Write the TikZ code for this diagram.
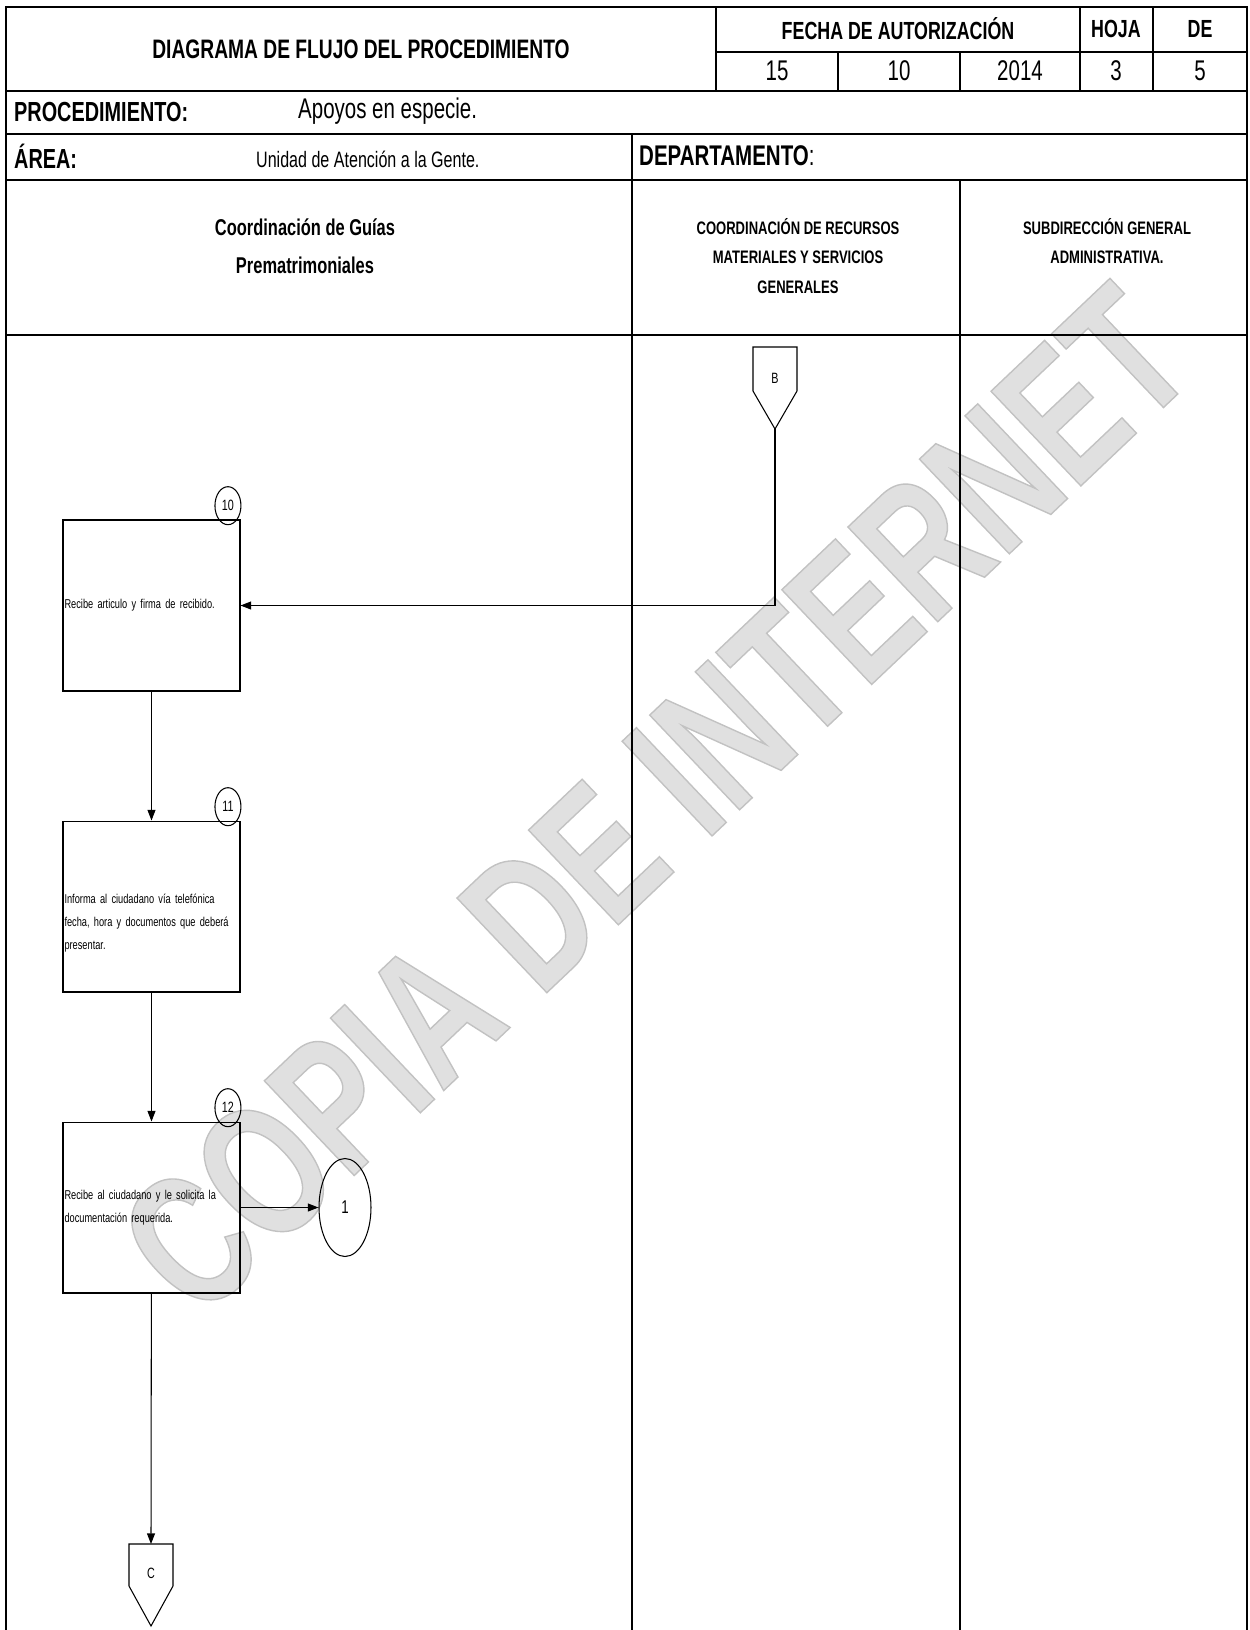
\documentclass[tikz,border=0pt]{standalone}
\usepackage{fontspec}
\setmainfont{Liberation Sans}[FakeStretch=0.72]
\usepackage{xcolor}
\usepackage{tikz}
\usetikzlibrary{arrows.meta, positioning, shapes.geometric}

\begin{document}
\begin{tikzpicture}[
			x=0.02cm, y=-0.02cm,
			every node/.style={font=\fontsize{7.6}{11.5}\selectfont},
			grid/.style={line width=1pt},
			head/.style={font=\bfseries\fontsize{14.1}{16}\selectfont},
			cell/.style={font=\fontsize{16.2}{18}\selectfont},
			lane/.style={align=center, font=\bfseries\fontsize{10.3}{16.8}\selectfont},
			box/.style={
				rectangle, draw, line width=0.6pt,
				minimum width=3.54cm, minimum height=3.42cm,
				text width=99pt, align=left, inner xsep=0.7pt,
				font=\fontsize{7.3}{13}\selectfont,
				execute at begin node={\hyphenpenalty=10000\relax}
			},
			num/.style={
				ellipse, draw, line width=0.6pt, inner sep=0pt,
				minimum width=0.52cm, minimum height=0.76cm,
				font=\fontsize{8.5}{9}\selectfont
			},
			arrow/.style={
				-{Triangle[length=6pt,width=4.5pt]},
				line width=0.6pt
			}
			]
			
			\useasboundingbox (0,0) rectangle (1250,1630);
			
			% marca de agua
			\node[rotate=43.5, text=black!12, font=\bfseries\fontsize{108}{108}\selectfont] (marca) at (655,800)
				{\special{pdf:literal direct 2 Tr 0.8 w 0.76 G}COPIA DE INTERNET\special{pdf:literal direct 0 Tr}};
			
			% encabezado
			\draw[grid] (6,1630) -- (6,7) -- (1247,7) -- (1247,1630);
			\draw[grid] (716,7) -- (716,91);
			\draw[grid] (716,52) -- (1247,52);
			\foreach \x in {1080,1153} \draw[grid] (\x,7) -- (\x,91);
			\foreach \x in {838,960} \draw[grid] (\x,52) -- (\x,91);
			\draw[grid] (6,91) -- (1247,91);
			\draw[grid] (6,134) -- (1247,134);
			\draw[grid] (6,180) -- (1247,180);
			\draw[grid] (6,335) -- (1247,335);
			\draw[grid] (632,134) -- (632,1630);
			\draw[grid] (960,180) -- (960,1630);
			
			\node[head, font=\bfseries\fontsize{15.2}{17}\selectfont] (titulo) at (361,49) {DIAGRAMA DE FLUJO DEL PROCEDIMIENTO};
			\node[head] (fecha) at (898,29) {FECHA DE AUTORIZACIÓN};
			\node[head] (hoja) at (1116,29) {HOJA};
			\node[head] (de) at (1200,29) {DE};
			\node[cell] (dia) at (777,71) {15};
			\node[cell] (mes) at (899,71) {10};
			\node[cell] (anio) at (1020,71) {2014};
			\node[cell] (nhoja) at (1116,71) {3};
			\node[cell] (nde) at (1200,71) {5};
			
			\node[head, font=\bfseries\fontsize{15.7}{17}\selectfont, anchor=west] (proc) at (8,112) {PROCEDIMIENTO:};
			\node[cell, anchor=west] (apoyos) at (292,111) {Apoyos en especie.};
			\node[head, font=\bfseries\fontsize{15.7}{17}\selectfont, anchor=west] (area) at (8,156) {ÁREA:};
			\node[anchor=west, font=\fontsize{12.7}{14}\selectfont] (unidad) at (250,159) {Unidad de Atención a la Gente.};
			\node[head, font=\bfseries\fontsize{16.2}{17}\selectfont, anchor=west] (depto) at (633,156) {DEPARTAMENTO{\mdseries :}};
			
			% carriles
			\node[lane, font=\bfseries\fontsize{13}{21.6}\selectfont] (guias) at (305,246) {Coordinación de Guías\\Prematrimoniales};
			\node[lane] (recursos) at (798,256) {COORDINACIÓN DE RECURSOS\\MATERIALES Y SERVICIOS\\GENERALES};
			\node[lane] (subdir) at (1107,241) {SUBDIRECCIÓN GENERAL\\ADMINISTRATIVA.};
			
			% conector B
			\node[font=\fontsize{8.5}{9}\selectfont] (offB) at (775,378) {B};
			\draw[line width=0.6pt] (753,347) -- (797,347) -- (797,391) -- (775,429) coordinate (offB tip) -- (753,391) -- cycle;
			
			% actividades
			\node[box] (recibe) at (151.5,605.5) {Recibe articulo y firma de recibido.};
			\node[box] (informa) at (151.5,906.5) {\rule{0pt}{24pt}Informa al ciudadano vía telefónica\\fecha, hora y documentos que deberá\\presentar.};
			\node[box] (atiende) at (151.5,1207.5) {Recibe al ciudadano y le solicita la\\documentación requerida.};
			
			\node[num, above left=0pt and 0.06cm of recibe.north east] (n10) {10};
			\node[num, above left=0pt and 0.06cm of informa.north east] (n11) {11};
			\node[num, above left=0pt and 0.06cm of atiende.north east] (n12) {12};
			
			\node[ellipse, draw, line width=0.6pt, minimum width=1.04cm, minimum height=1.96cm, inner sep=0pt, font=\fontsize{10.5}{11}\selectfont] (con1) at (345,1207.5) {1};
			
			% conector C
			\node[font=\fontsize{8.5}{9}\selectfont] (offC) at (151,1573) {C};
			\draw[line width=0.6pt] (129,1544) -- (173,1544) -- (173,1586) -- (151,1626) -- (129,1586) -- cycle;
			\coordinate (offC top) at (151,1544);
			
			\draw[arrow] (offB tip) |- (recibe);
			\draw[arrow] (recibe) -- (informa);
			\draw[arrow] (informa) -- (atiende);
			\draw[arrow] (atiende) -- (con1);
			\draw[arrow] (atiende) -- (offC top);
			
		\end{tikzpicture}
\end{document}
